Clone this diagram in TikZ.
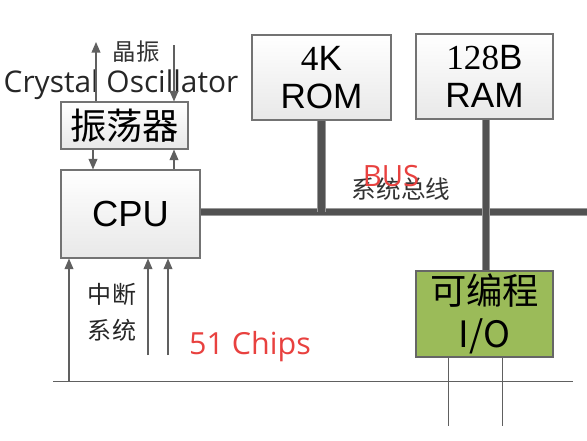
\documentclass[tikz,border=0pt]{standalone}
\usepackage{fontspec}
\setmainfont{Open Sans}
\newfontfamily\cjk{Noto Sans CJK SC}
\newfontfamily\arial{Liberation Sans}
\newfontfamily\tms{Liberation Serif}
\usetikzlibrary{arrows.meta}

\definecolor{lineg}{HTML}{606060}
\definecolor{chipred}{HTML}{E8413F}
\definecolor{iogreen}{HTML}{9BBB59}

\tikzset{
  box/.style={draw=black!55, line width=0.9pt, top color=white, bottom color=black!9,
    inner sep=0pt, align=center},
  iobox/.style={draw=black!60, line width=0.9pt, fill=iogreen, inner sep=0pt, align=center},
  sig/.style={draw=lineg, line width=1pt, -{Triangle[length=9pt,width=7.5pt]}},
  wire/.style={draw=lineg, line width=0.8pt},
  bus/.style={draw=black!68, line width=5.5pt, preaction={draw=black!40, line width=7.5pt}},
}

\begin{document}
\begin{tikzpicture}[x=0.03cm, y=-0.03cm]
  \useasboundingbox (0,0) rectangle (587,440);
  % boxes
  \node[box, minimum width=127*0.03cm, minimum height=47*0.03cm,
        font=\cjk\fontsize{31}{34}\selectfont] (osc) at (124.5,125.5) {振荡器};
  \node[box, minimum width=139*0.03cm, minimum height=88*0.03cm,
        font=\arial\fontsize{31}{34}\selectfont] (cpu) at (130.5,214) {CPU};
  \node[box, minimum width=139*0.03cm, minimum height=85*0.03cm,
        font=\arial\fontsize{30}{33}\selectfont] (rom) at (321.5,77.5) {{\tms 4}K\\ROM};
  \node[box, minimum width=137*0.03cm, minimum height=85*0.03cm,
        font=\arial\fontsize{30}{33}\selectfont] (ram) at (484.5,76.5) {{\tms 128}B\\RAM};
  \node[iobox, minimum width=137*0.03cm, minimum height=86*0.03cm,
        font=\cjk\fontsize{31}{37}\selectfont] (io) at (484.5,314) {可编程\\I/O};
  % system bus
  \coordinate (busend) at (587,212);
  \draw[bus] (cpu.east |- busend) -- (busend);
  \draw[bus] (rom.south) -- (rom.south |- busend);
  \draw[bus] (ram.south -| 486,0) -- (io.north -| 486,0);
  \node[font=\cjk\fontsize{21}{23}\selectfont, text=black!80] (bustxt) at (401,189) {系统总线};
  \node[font=\fontsize{25}{27}\selectfont, text=chipred] (buslbl) at (391,176) {BUS};
  % oscillator
  \node[font=\fontsize{25.5}{28}\selectfont, text=black!85] (xtal) at (121,85) {Crystal Oscillator};
  \node[font=\cjk\fontsize{20}{22}\selectfont, text=black!80] (jz) at (136,52) {晶振};
  \coordinate (xin) at (174,45);
  \draw[sig] (osc.north -| 96,0) -- (96,42);
  \draw[sig] (xin) -- (osc.north -| xin);
  \draw[sig] (osc.south -| 93,0) -- (cpu.north -| 93,0);
  \draw[sig] (cpu.north -| 174,0) -- (osc.south -| 174,0);
  % interrupts
  \coordinate (bl) at (53,381);
  \coordinate (br) at (573,381);
  \draw[wire] (bl) -- (br);
  \draw[sig] (bl -| 69,0) -- (cpu.south -| 69,0);
  \draw[sig] (148,355) -- (cpu.south -| 148,0);
  \draw[sig] (168,355) -- (cpu.south -| 168,0);
  \node[font=\cjk\fontsize{20.5}{31}\selectfont, align=center, text=black!85] (intr) at (112,312) {中断\\系统};
  \node[font=\fontsize{26}{28}\selectfont, text=chipred] (chips) at (250,347) {51 Chips};
  % port lines
  \draw[wire] (io.south -| 448,0) -- (448,426);
  \draw[wire] (io.south -| 502,0) -- (502,426);
\end{tikzpicture}
\end{document}
